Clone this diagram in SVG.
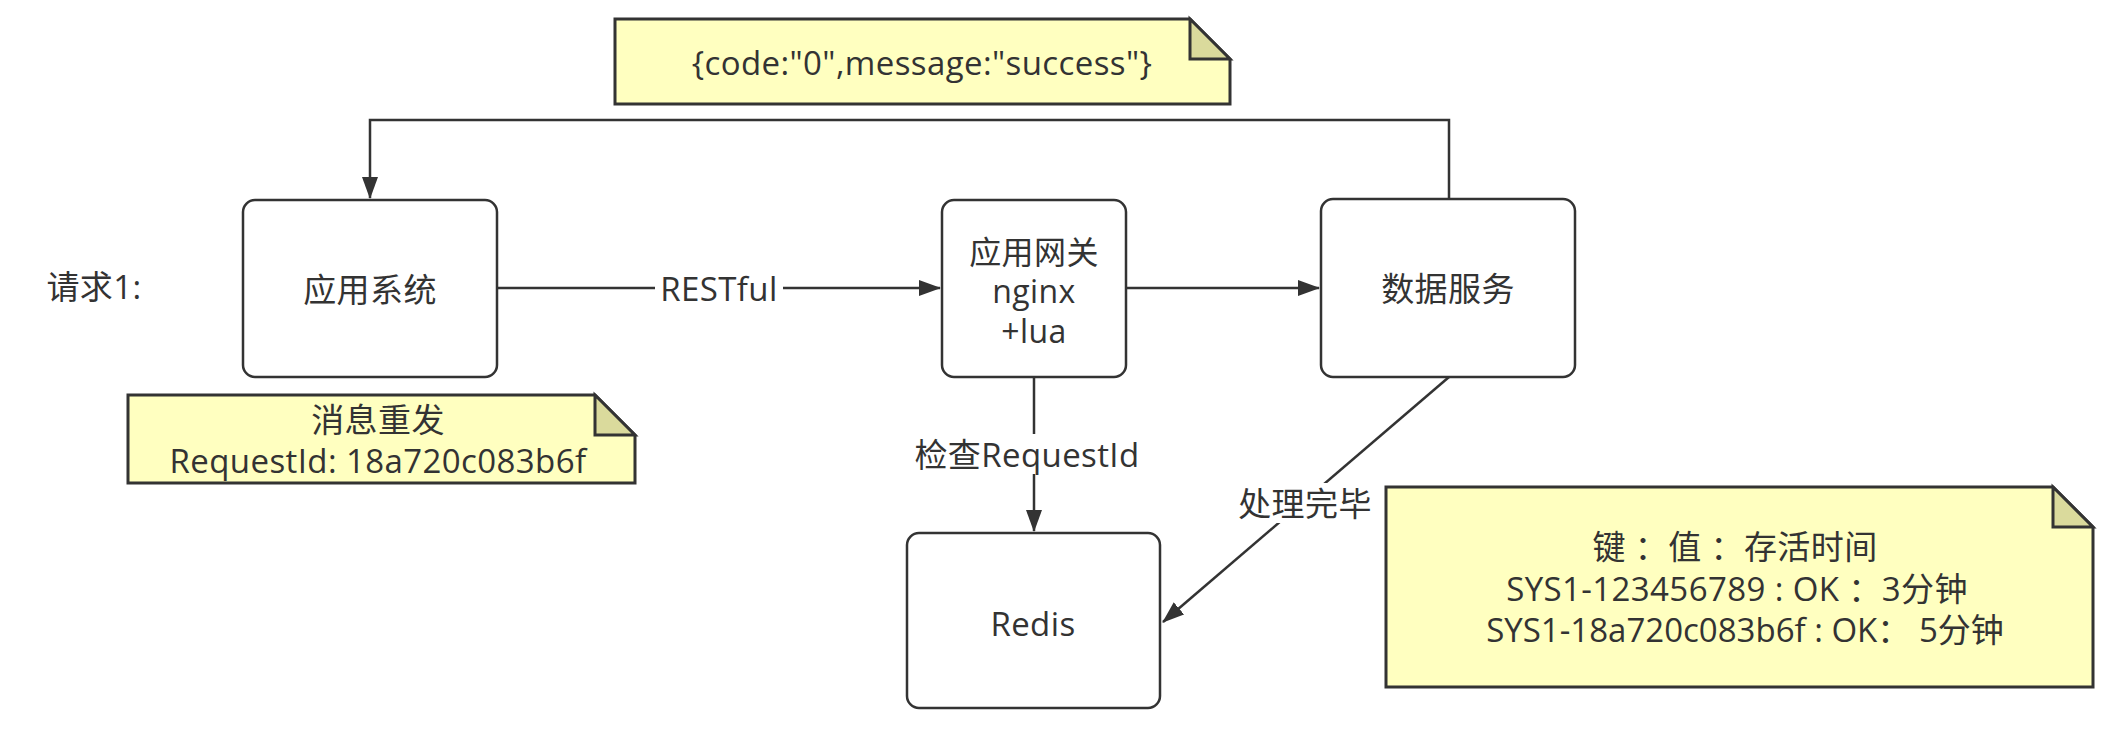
<svg xmlns="http://www.w3.org/2000/svg" width="2120" height="732" viewBox="0 0 2120 732">
<style>
  text { font-family: "Open Sans", "Noto Sans CJK SC", sans-serif; font-size: 33px; letter-spacing: 0.4px; fill: #333333; text-anchor: middle; dominant-baseline: central; }
  .gw { font-size: 32px; }
  .tight { letter-spacing: 0px; }
  .box { fill: #ffffff; stroke: #333333; stroke-width: 2.5; }
  .note { fill: #ffffc0; stroke: #333333; stroke-width: 3; stroke-linejoin: miter; }
  .fold { fill: #dada9c; stroke: #333333; stroke-width: 3; }
  .edge { fill: none; stroke: #333333; stroke-width: 2.5; }
  .lblbg { fill: #ffffff; }
</style>
<defs>
  <marker id="arr" markerWidth="22" markerHeight="18" refX="21" refY="9" orient="auto" markerUnits="userSpaceOnUse">
    <path d="M0,1 L22,9 L0,17 Z" fill="#333333"/>
  </marker>
</defs>
<rect width="2120" height="732" fill="#ffffff"/>

<g id="connectors">
  <path class="edge" d="M1449,199 V120 H370 V198" marker-end="url(#arr)"/>
  <path class="edge" d="M497,288 H940" marker-end="url(#arr)"/>
  <rect class="lblbg" x="655" y="270" width="128" height="36"/>
  <text x="719" y="288">RESTful</text>
  <path class="edge" d="M1034,377 V531" marker-end="url(#arr)"/>
  <rect class="lblbg" x="900" y="434" width="254" height="40"/>
  <text x="1027" y="454">检查RequestId</text>
  <path class="edge" d="M1126,288 H1319" marker-end="url(#arr)"/>
  <path class="edge" d="M1449,377 L1163,622" marker-end="url(#arr)"/>
  <rect class="lblbg" x="1234" y="483" width="142" height="40"/>
  <text x="1305" y="503">处理完毕</text>
</g>

<g id="label-request">
  <text x="94" y="286">请求1:</text>
</g>

<g id="node-app">
  <rect class="box" x="243" y="200" width="254" height="177" rx="12"/>
  <text x="370" y="289">应用系统</text>
</g>

<g id="node-gateway">
  <rect class="box" x="942" y="200" width="184" height="177" rx="12"/>
  <text class="gw" x="1034" y="251">应用网关</text>
  <text class="gw" x="1034" y="290">nginx</text>
  <text class="gw" x="1034" y="330">+lua</text>
</g>

<g id="node-data">
  <rect class="box" x="1321" y="199" width="254" height="178" rx="12"/>
  <text x="1448" y="288">数据服务</text>
</g>

<g id="node-redis">
  <rect class="box" x="907" y="533" width="253" height="175" rx="12"/>
  <text x="1033" y="623">Redis</text>
</g>

<g id="note-response">
  <path class="note" d="M615,19 H1190 L1230,59 V104 H615 Z"/>
  <path class="fold" d="M1190,19 V59 H1230 Z"/>
  <text x="922" y="62">{code:"0",message:"success"}</text>
</g>

<g id="note-resend">
  <path class="note" d="M128,395 H595 L635,435 V483 H128 Z"/>
  <path class="fold" d="M595,395 V435 H635 Z"/>
  <text x="378" y="419">消息重发</text>
  <text x="378" y="460">RequestId: 18a720c083b6f</text>
</g>

<g id="note-redis">
  <path class="note" d="M1386,487 H2053 L2093,527 V687 H1386 Z"/>
  <path class="fold" d="M2053,487 V527 H2093 Z"/>
  <text x="1735" y="546">键 ：值 ：存活时间</text>
  <text x="1737" y="588">SYS1-123456789 : OK ：3分钟</text>
  <text class="tight" x="1745" y="629">SYS1-18a720c083b6f : OK： 5分钟</text>
</g>
</svg>
